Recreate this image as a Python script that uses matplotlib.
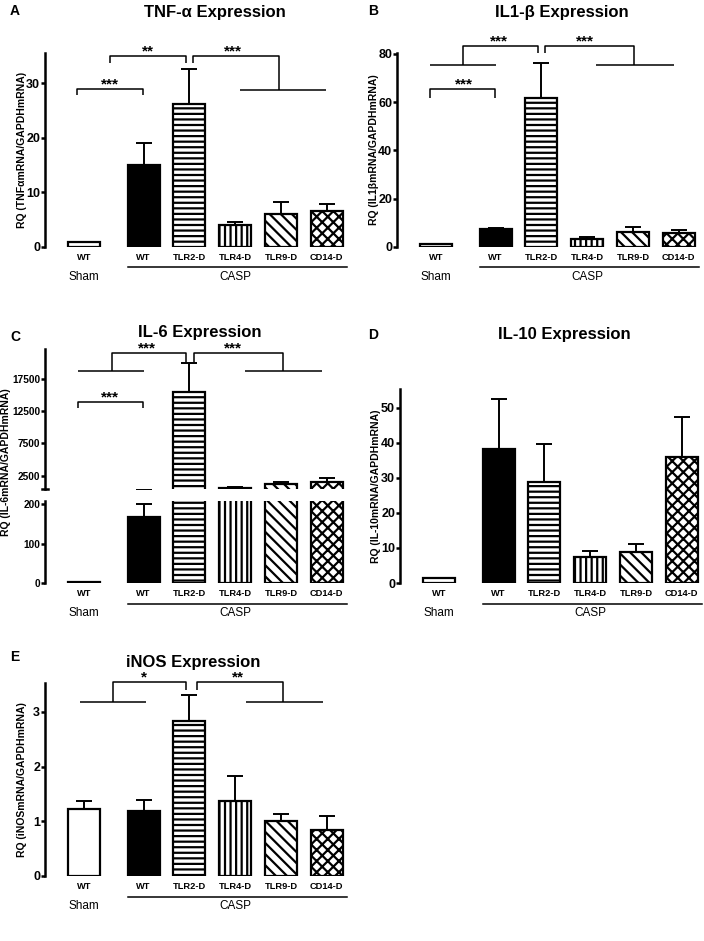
import numpy as np
import matplotlib
matplotlib.use("Agg")
import matplotlib.pyplot as plt
from matplotlib import transforms

plt.rcParams['font.family'] = ['Liberation Sans', 'DejaVu Sans']
plt.rcParams['hatch.linewidth'] = 1.6

# groups: Sham WT, then CASP WT / knockouts
groups = ["WT", "WT", "TLR2-D", "TLR4-D", "TLR9-D", "CD14-D"]
bar_colors = ["white", "black", "white", "white", "white", "white"]
bar_hatches = ["", "", "---", "|||", "\\\\\\", "xxx"]

tnf_mean = [1.0, 15.0, 26.2, 4.0, 6.0, 6.6]
tnf_err = [0.0, 4.1, 6.3, 0.6, 2.2, 1.3]

il1b_mean = [1.2, 7.5, 61.5, 3.5, 6.3, 5.9]
il1b_err = [0.2, 0.5, 14.6, 0.5, 1.9, 1.1]

il6_mean = [2, 168, 15430, 600, 1150, 1520]
il6_err = [0, 31, 4500, 150, 410, 670]

il10_mean = [1.3, 38.2, 28.8, 7.3, 8.7, 36.0]
il10_err = [0.2, 14.3, 10.7, 1.9, 2.3, 11.2]

inos_mean = [1.23, 1.18, 2.84, 1.37, 1.01, 0.85]
inos_err = [0.15, 0.21, 0.47, 0.45, 0.13, 0.24]

pos = np.array([0, 1.3, 2.3, 3.3, 4.3, 5.3])

W, H = 704, 941
UNIT = 45.8
AX_W = 305
XMIN, XMAX = -39 / UNIT, (AX_W - 39) / UNIT

fig = plt.figure(figsize=(W / 100, H / 100), dpi=100)


def px_axes(left, top, bottom):
    return fig.add_axes([left / W, 1 - bottom / H, AX_W / W, (bottom - top) / H])


def style(ax, ylim, yticks, fs=9):
    ax.set_xlim(XMIN, XMAX)
    ax.set_ylim(*ylim)
    for s in ['top', 'right', 'bottom']:
        ax.spines[s].set_visible(False)
    ax.spines['left'].set_linewidth(1.8)
    ax.set_yticks(yticks)
    ax.tick_params(axis='y', length=3, width=1.8, labelsize=fs, pad=0.5)
    for lab in ax.get_yticklabels():
        lab.set_fontweight('bold')
    ax.set_xticks([])
    ax.patch.set_alpha(0)


def draw_bars(ax, means, errs):
    ax.errorbar(pos, means, yerr=[np.zeros(len(errs)), errs], fmt='none',
                ecolor='black', elinewidth=1.4, capsize=6, capthick=1.4, zorder=1)
    ax.bar(pos, means, width=0.7, color=bar_colors, edgecolor='black',
           linewidth=1.6, hatch=bar_hatches, zorder=2)


def xlabels(ax, top, bottom):
    ax.set_xticks(pos, groups)
    ax.tick_params(axis='x', length=0, pad=4, labelsize=6.7)
    for lab in ax.get_xticklabels():
        lab.set_fontweight('bold')
    h = bottom - top
    tr = transforms.blended_transform_factory(ax.transData, ax.transAxes)
    ax.plot([0.95, 5.75], [-20.5 / h] * 2, transform=tr, color='black', lw=1.1, clip_on=False)
    ax.text(0, -30 / h, "Sham", transform=tr, ha='center', va='center', fontsize=8.5)
    ax.text(3.3, -30 / h, "CASP", transform=tr, ha='center', va='center', fontsize=8.5)


def line(ax, xs, ys):
    ax.plot(xs, ys, color='black', lw=1.1, clip_on=False, solid_capstyle='butt')


def stars(ax, s, x, y):
    ax.annotate(s, xy=(x, y), xytext=(0, 0.5), textcoords='offset points',
                ha='center', va='baseline', fontsize=11, fontweight='bold',
                annotation_clip=False)


def ftext(px, py, s, **kw):
    fig.text(px / W, 1 - py / H, s, ha='center', va='center', **kw)


def ylab(px, py, s):
    ftext(px, py, s, rotation=90, fontsize=7.5, fontweight='bold')


# ---------- A: TNF-alpha ----------
axA = px_axes(45, 53, 247)
draw_bars(axA, tnf_mean, tnf_err)
style(axA, (0, 35.5), [0, 10, 20, 30])
xlabels(axA, 53, 247)
ylab(22, 150, "RQ (TNFαmRNA/GAPDHmRNA)")
line(axA, [-0.15, -0.15, 1.29, 1.29], [27.8, 28.9, 28.9, 27.8])
stars(axA, "***", 0.57, 28.9)
line(axA, [0.57, 0.57, 2.23, 2.23], [33.6, 34.9, 34.9, 33.6])
stars(axA, "**", 1.40, 34.9)
line(axA, [2.38, 2.38, 4.25, 4.25], [33.6, 34.9, 34.9, 28.7])
line(axA, [3.41, 5.28], [28.7, 28.7])
stars(axA, "***", 3.25, 34.9)
ftext(215, 12, "TNF-α Expression", fontsize=12, fontweight='bold')
ftext(15, 11, "A", fontsize=10, fontweight='bold')

# ---------- B: IL1-beta ----------
axB = px_axes(397, 53, 247)
draw_bars(axB, il1b_mean, il1b_err)
style(axB, (0, 80.3), [0, 20, 40, 60, 80])
xlabels(axB, 53, 247)
ylab(374, 150, "RQ (IL1βmRNA/GAPDHmRNA)")
line(axB, [-0.13, 1.31], [75.4, 75.4])
line(axB, [0.59, 0.59, 2.23, 2.23], [75.4, 83.3, 83.3, 80.4])
line(axB, [2.38, 2.38, 4.32, 4.32], [80.4, 83.3, 83.3, 75.4])
line(axB, [3.49, 5.2], [75.4, 75.4])
line(axB, [-0.13, -0.13, 1.29, 1.29], [61.8, 65.5, 65.5, 61.8])
stars(axB, "***", 0.61, 65.5)
stars(axB, "***", 1.38, 83.3)
stars(axB, "***", 3.25, 83.3)
ftext(562, 12, "IL1-β Expression", fontsize=12, fontweight='bold')
ftext(373, 11, "B", fontsize=10, fontweight='bold')

# ---------- C: IL-6 (broken axis) ----------
axCu = px_axes(45, 349, 489)
axCl = px_axes(45, 501, 583)
draw_bars(axCu, il6_mean, il6_err)
draw_bars(axCl, il6_mean, il6_err)
style(axCu, (430, 22150), [2500, 7500, 12500, 17500], fs=7.3)
style(axCl, (0, 207.6), [0, 100, 200], fs=7.3)
axCu.plot([XMIN - 0.065, XMIN + 0.065], [430, 430], color='black', lw=1.8, clip_on=False)
xlabels(axCl, 501, 583)
ylab(6, 462, "RQ (IL-6mRNA/GAPDHmRNA)")
line(axCu, [-0.13, 1.31], [18750, 18750])
line(axCu, [0.61, 0.61, 2.23, 2.23], [18750, 21540, 21540, 20140])
line(axCu, [2.40, 2.40, 4.34, 4.34], [20140, 21540, 21540, 18750])
line(axCu, [3.52, 5.2], [18750, 18750])
line(axCu, [-0.13, -0.13, 1.29, 1.29], [12980, 13910, 13910, 12980])
stars(axCu, "***", 0.57, 13910)
stars(axCu, "***", 1.38, 21540)
stars(axCu, "***", 3.26, 21540)
ftext(200, 333, "IL-6 Expression", fontsize=12, fontweight='bold')
ftext(15, 337, "C", fontsize=10, fontweight='bold')

# ---------- D: IL-10 ----------
axD = px_axes(400, 389, 583)
draw_bars(axD, il10_mean, il10_err)
style(axD, (0, 55.3), [0, 10, 20, 30, 40, 50])
xlabels(axD, 389, 583)
ylab(376, 486, "RQ (IL-10mRNA/GAPDHmRNA)")
ftext(564, 335, "IL-10 Expression", fontsize=12, fontweight='bold')
ftext(373, 335, "D", fontsize=10, fontweight='bold')

# ---------- E: iNOS ----------
axE = px_axes(45, 683, 876)
draw_bars(axE, inos_mean, inos_err)
style(axE, (0, 3.53), [0, 1, 2, 3])
xlabels(axE, 683, 876)
ylab(22, 780, "RQ (iNOSmRNA/GAPDHmRNA)")
line(axE, [-0.09, 1.35], [3.18, 3.18])
line(axE, [0.63, 0.63, 2.23, 2.23], [3.18, 3.55, 3.55, 3.40])
line(axE, [2.47, 2.47, 4.34, 4.34], [3.40, 3.55, 3.55, 3.18])
line(axE, [3.54, 5.22], [3.18, 3.18])
stars(axE, "*", 1.31, 3.55)
stars(axE, "**", 3.36, 3.55)
ftext(193, 663, "iNOS Expression", fontsize=12, fontweight='bold')
ftext(15, 657, "E", fontsize=10, fontweight='bold')

fig.savefig("out.png", dpi=100)
plt.close(fig)
